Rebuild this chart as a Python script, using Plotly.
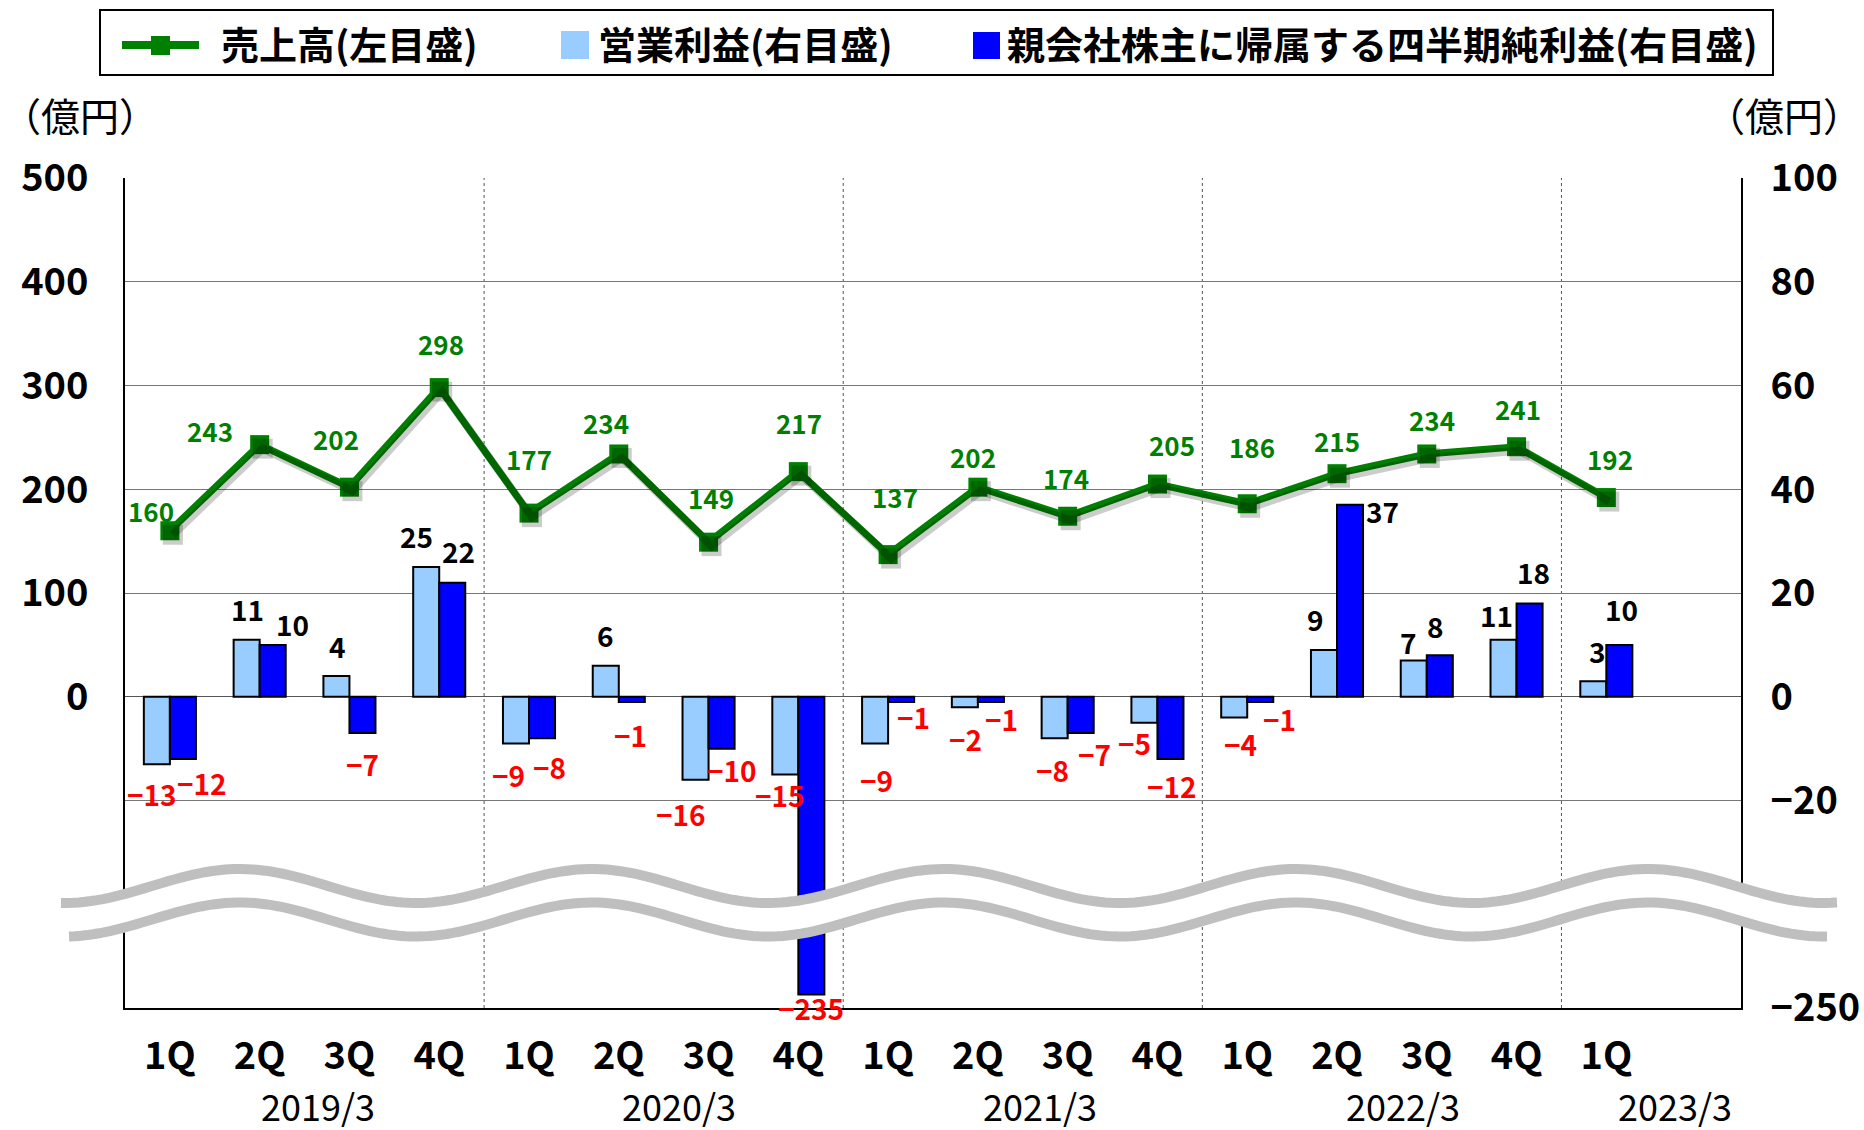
import math
import plotly.graph_objects as go

# ---------------- data ----------------
quarters = ["1Q", "2Q", "3Q", "4Q", "1Q", "2Q", "3Q", "4Q", "1Q", "2Q", "3Q", "4Q",
            "1Q", "2Q", "3Q", "4Q", "1Q"]
sales = [160, 243, 202, 298, 177, 234, 149, 217, 137, 202, 174, 205, 186, 215, 234, 241, 192]
op_profit = [-13, 11, 4, 25, -9, 6, -16, -15, -9, -2, -8, -5, -4, 9, 7, 11, 3]
net_profit = [-12, 10, -7, 22, -8, -1, -10, -235, -1, -1, -7, -12, -1, 37, 8, 18, 10]
fiscal_years = ["2019/3", "2020/3", "2021/3", "2022/3", "2023/3"]
left_ticks = [500, 400, 300, 200, 100, 0]
right_ticks = [100, 80, 60, 40, 20, 0, -20, -250]

names = ["売上高(左目盛)", "営業利益(右目盛)", "親会社株主に帰属する四半期純利益(右目盛)"]
unit_label = "（億円）"

# ---------------- style ----------------
GREEN = "#008000"
LIGHT = "#99CCFF"
BLUE = "#0000FF"
RED = "#FF0000"
FONT = "Noto Sans CJK JP"

W, H, OFF = 1864, 1130, 0
ML, MR, MT, MB = 125, 123, 178, 122
PW, PH = W - ML - MR, H - MT - MB

# broken right axis: values below -20 are compressed so that -250 sits at the bottom
BREAK_HI, BREAK_LO, AX_LO = -20, -250, -60
L_LO, L_HI = -300, 500
R_HI = 100


def brk(v):
    if v >= BREAK_HI:
        return v
    return BREAK_HI + (v - BREAK_HI) * (AX_LO - BREAK_HI) / (BREAK_LO - BREAK_HI)


def fmt(v):
    return ("−" + str(-v)) if v < 0 else str(v)


def pxx(sx):
    return (sx - OFF - ML) / PW


def pyy(sy):
    return 1 - (sy - OFF - MT) / PH


x = list(range(len(quarters)))
net_plot = [brk(v) for v in net_profit]

# small pixel shift for the soft shadow under the sales line
SH_DX, SH_DY = 3, 4
x_span = 18.0
xs = SH_DX * x_span / PW
ys = SH_DY * (L_HI - L_LO) / PH

fig = go.Figure()
fig.add_trace(go.Bar(x=x, y=op_profit, name=names[1],
                     marker=dict(color=LIGHT, line=dict(color="black", width=2)),
                     xaxis="x", yaxis="y", showlegend=False))
fig.add_trace(go.Bar(x=x, y=net_plot, name=names[2],
                     marker=dict(color=BLUE, line=dict(color="black", width=2)),
                     xaxis="x", yaxis="y", showlegend=False))
fig.add_trace(go.Scatter(x=x, y=sales, name="shadow", mode="lines+markers", xaxis="x2", yaxis="y2",
                         line=dict(color="rgba(0,0,0,0.2)", width=8),
                         marker=dict(symbol="square", size=20, color="rgba(0,0,0,0.2)"),
                         showlegend=False, hoverinfo="skip"))
fig.add_trace(go.Scatter(x=x, y=sales, name=names[0], mode="lines+markers", xaxis="x", yaxis="y3",
                         line=dict(color=GREEN, width=7),
                         marker=dict(symbol="square", size=19, color=GREEN), showlegend=False))

# label offsets (pixels, screen down positive)
sales_off = [(-19, -20), (-50, -14), (-13, -49), (2, -44), (0, -55), (-13, -31), (2, -45), (1, -49),
             (7, -58), (-5, -31), (-2, -39), (15, -40), (5, -57), (0, -33), (5, -34), (1, -38), (4, -39)]
op_off = [(-5, 30), (1, -31), (1, -30), (-10, -31), (-7, 32), (0, -31), (-15, 34), (-5, 20), (1, 37),
          (1, 32), (-2, 32), (-10, 20), (6, 26), (-8, -31), (-5, -18), (-7, -25), (4, -30)]
np_off = [(19, 24), (20, -21), (0, 31), (6, -32), (7, 29), (-1, 33), (10, 21), (0, 14), (12, 15),
          (11, 17), (14, 21), (2, 27), (19, 17), (32, 6), (-4, -29), (4, -31), (2, -36)]
BAR_HALF = 0.145

ann = []
for i, v in enumerate(sales):
    dx, dy = sales_off[i]
    ann.append(dict(x=i, y=v, xref="x", yref="y3", text=str(v), showarrow=False,
                    xanchor="center", yanchor="middle",
                    xshift=dx, yshift=-dy, font=dict(family=FONT, size=26, color=GREEN, weight="bold")))
for i, v in enumerate(op_profit):
    dx, dy = op_off[i]
    ann.append(dict(x=i - BAR_HALF, y=v, xref="x", yref="y", text=fmt(v), showarrow=False,
                    xanchor="center", yanchor="middle", xshift=dx, yshift=-dy,
                    font=dict(family=FONT, size=28, color=RED if v < 0 else "black", weight="bold")))
for i, v in enumerate(net_profit):
    dx, dy = np_off[i]
    ann.append(dict(x=i + BAR_HALF, y=net_plot[i], xref="x", yref="y", text=fmt(v), showarrow=False,
                    xanchor="center", yanchor="middle", xshift=dx, yshift=-dy,
                    font=dict(family=FONT, size=28, color=RED if v < 0 else "black", weight="bold")))

# fiscal year labels
year_x = [1.65, 5.67, 9.69, 13.73, 16.77]
for xv, t in zip(year_x, fiscal_years):
    ann.append(dict(x=xv, y=pyy(1105), xref="x", yref="paper", text=t, showarrow=False,
                    xanchor="center", yanchor="middle",
                    font=dict(family=FONT, size=36, color="black")))

# unit labels
for sx, anc in ((0, "left"), (1864, "right")):
    ann.append(dict(x=pxx(sx), y=pyy(114), xref="paper", yref="paper", text=unit_label, showarrow=False,
                    xanchor=anc, yanchor="middle", font=dict(family=FONT, size=39, color="black")))

# legend texts
leg_font = dict(family=FONT, size=38, color="black", weight="bold")
for sx, t in zip([219, 596, 1005], names):
    ann.append(dict(x=pxx(sx), y=pyy(43), xref="paper", yref="paper", text=t, showarrow=False,
                    xanchor="left", yanchor="middle", font=leg_font))

shapes = []
# fiscal-year dividers
for xv in [3.5, 7.5, 11.5, 15.5]:
    shapes.append(dict(type="line", xref="x", yref="paper", x0=xv, x1=xv, y0=0, y1=1,
                       line=dict(color="#555555", width=1, dash="dot"), layer="between"))


# broken-axis wave (decoration)
def wave(sx, base):
    return base - 17 * math.cos(2 * math.pi * (sx - 240) / 352)


up = [(sx, wave(sx, 886)) for sx in [61 + k * 6 for k in range(297)]]
lo = [(sx, wave(sx, 919.5)) for sx in [69 + k * 6 for k in range(294)]]


def path(pts):
    return "M " + " L ".join(f"{pxx(a):.5f},{pyy(b):.5f}" for a, b in pts)


fill_path = path(up + lo[::-1]) + " Z"
shapes.append(dict(type="path", xref="paper", yref="paper", path=fill_path,
                   fillcolor="white", line=dict(width=0), layer="above"))
for pts in (up, lo):
    shapes.append(dict(type="path", xref="paper", yref="paper", path=path(pts),
                       line=dict(color="#BFBFBF", width=10), layer="above"))

# legend frame & symbols
shapes.append(dict(type="rect", xref="paper", yref="paper", x0=pxx(100), x1=pxx(1773), y0=pyy(10), y1=pyy(75),
                   line=dict(color="black", width=2), fillcolor="white", layer="above"))
shapes.append(dict(type="line", xref="paper", yref="paper", x0=pxx(122), x1=pxx(199), y0=pyy(45), y1=pyy(45),
                   line=dict(color=GREEN, width=8), layer="above"))
shapes.append(dict(type="rect", xref="paper", yref="paper", x0=pxx(151), x1=pxx(170), y0=pyy(36), y1=pyy(55),
                   line=dict(width=0), fillcolor=GREEN, layer="above"))
shapes.append(dict(type="rect", xref="paper", yref="paper", x0=pxx(561), x1=pxx(589), y0=pyy(31), y1=pyy(59),
                   line=dict(width=0), fillcolor=LIGHT, layer="above"))
shapes.append(dict(type="rect", xref="paper", yref="paper", x0=pxx(973), x1=pxx(1000), y0=pyy(32), y1=pyy(59),
                   line=dict(width=0), fillcolor=BLUE, layer="above"))

tickfont = dict(family=FONT, size=38, color="black", weight="bold")
fig.update_layout(
    width=W, height=H,
    margin=dict(l=ML, r=MR, t=MT, b=MB, pad=0, autoexpand=False),
    paper_bgcolor="white", plot_bgcolor="white",
    barmode="group", bargap=0.42, bargroupgap=0,
    showlegend=False,
    xaxis=dict(range=[-0.5, 17.5], tickmode="array", tickvals=x, ticktext=quarters,
               showgrid=False, zeroline=False, showline=True, linecolor="black", linewidth=2,
               ticks="", tickfont=tickfont, ticklabelstandoff=13, automargin=False),
    xaxis2=dict(range=[-0.5 - xs, 17.5 - xs], overlaying="x", visible=False, automargin=False),
    yaxis=dict(side="right", range=[AX_LO, R_HI], tickmode="array",
               tickvals=[brk(v) for v in right_ticks], ticktext=[fmt(v) for v in right_ticks],
               showgrid=True, gridcolor="#777777", gridwidth=1, zeroline=True, zerolinecolor="#555555",
               zerolinewidth=1, showline=True, linecolor="black", linewidth=2, ticks="",
               tickfont=tickfont, ticklabelstandoff=20, automargin=False),
    yaxis2=dict(overlaying="y", range=[L_LO + ys, L_HI + ys], visible=False, automargin=False),
    yaxis3=dict(side="left", overlaying="y", range=[L_LO, L_HI], tickmode="array",
                tickvals=left_ticks, ticktext=[str(v) for v in left_ticks],
                showgrid=False, zeroline=False, showline=True, linecolor="black", linewidth=2,
                ticks="", tickfont=tickfont, ticklabelstandoff=27, automargin=False),
    annotations=ann,
    shapes=shapes,
)

# remove the browser's default 8px page margin so the 1864x1130 figure fills the window exactly
fig.write_html("out.html", config={"displayModeBar": False},
               post_script="document.body.style.margin='0px';")
